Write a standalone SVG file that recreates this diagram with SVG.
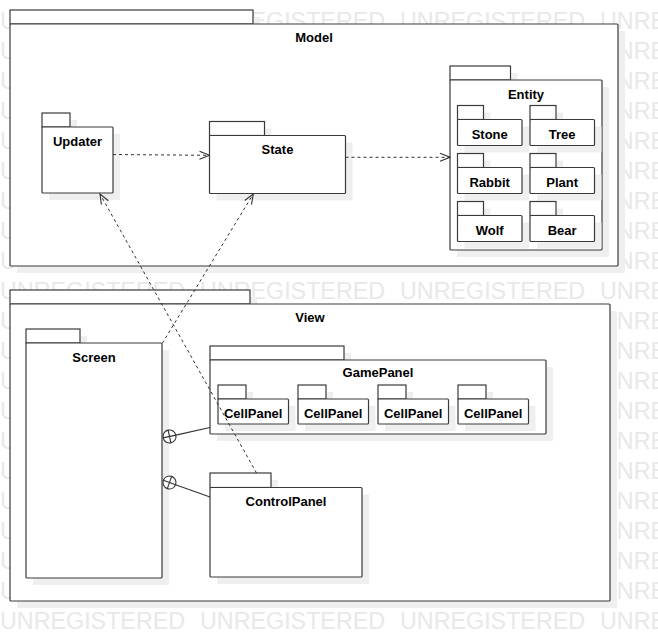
<svg xmlns="http://www.w3.org/2000/svg" width="658" height="641" viewBox="0 0 658 641">
<style>
.wm{font-family:"Liberation Sans",Arial,sans-serif;font-size:23.3px;fill:#e8e8e8}
.sh{fill:#efefef;stroke:none}
.pk{fill:#fff;stroke:#3a3a3a;stroke-width:1.2}
.lb{font-family:"Liberation Sans",Arial,sans-serif;font-size:13px;font-weight:bold;text-anchor:middle;fill:#000}
.dep{fill:none;stroke:#333;stroke-width:1;stroke-dasharray:3 3}
.sol{fill:none;stroke:#333;stroke-width:1.1}
.nest{fill:#fff;stroke:#333;stroke-width:1.1}
</style>
<defs>
<marker id="open" viewBox="0 0 12 10" refX="11" refY="5" markerWidth="12" markerHeight="10" orient="auto" markerUnits="userSpaceOnUse">
<path d="M1 1 L11 5 L1 9" fill="none" stroke="#333" stroke-width="1.1" stroke-dasharray="none"/>
</marker>
<g id="wmrow"><text class="wm" y="0"><tspan x="0">UNREGISTERED</tspan><tspan x="200">UNREGISTERED</tspan><tspan x="400">UNREGISTERED</tspan><tspan x="600">UNREGISTERED</tspan></text></g>
</defs>
<rect x="0" y="0" width="658" height="641" fill="#fff"/>
<g id="watermark">
<use href="#wmrow" y="29"/><use href="#wmrow" y="59"/><use href="#wmrow" y="89"/><use href="#wmrow" y="119"/><use href="#wmrow" y="149"/><use href="#wmrow" y="179"/><use href="#wmrow" y="209"/><use href="#wmrow" y="239"/><use href="#wmrow" y="269"/><use href="#wmrow" y="299"/><use href="#wmrow" y="329"/><use href="#wmrow" y="359"/><use href="#wmrow" y="389"/><use href="#wmrow" y="419"/><use href="#wmrow" y="449"/><use href="#wmrow" y="479"/><use href="#wmrow" y="509"/><use href="#wmrow" y="539"/><use href="#wmrow" y="569"/><use href="#wmrow" y="599"/><use href="#wmrow" y="629"/>
</g>

<g id="Model">
<rect class="sh" x="17" y="17" width="243" height="14"/><rect class="sh" x="17" y="31" width="608" height="242"/>
<rect class="pk" x="10" y="10" width="243" height="14"/><rect class="pk" x="10" y="24" width="608" height="242" rx="1"/>
<text class="lb" x="314" y="42">Model</text>
</g>
<g id="Updater">
<rect class="sh" x="49" y="120" width="28" height="14"/><rect class="sh" x="49" y="134" width="71" height="66"/>
<rect class="pk" x="42" y="113" width="28" height="14"/><rect class="pk" x="42" y="127" width="71" height="66" rx="1"/>
<text class="lb" x="77.5" y="146">Updater</text>
</g>
<g id="State">
<rect class="sh" x="216.5" y="128.5" width="55" height="14"/><rect class="sh" x="216.5" y="142.5" width="136" height="58"/>
<rect class="pk" x="209.5" y="121.5" width="55" height="14"/><rect class="pk" x="209.5" y="135.5" width="136" height="58" rx="1"/>
<text class="lb" x="277.5" y="153.5">State</text>
</g>
<g id="Entity">
<rect class="sh" x="457" y="73" width="60.5" height="14"/><rect class="sh" x="457" y="87" width="152" height="170"/>
<rect class="pk" x="450" y="66" width="60.5" height="14"/><rect class="pk" x="450" y="80" width="152" height="170" rx="1"/>
<text class="lb" x="526" y="98.5">Entity</text>
</g>
<g id="Stone">
<rect class="sh" x="464.5" y="112.5" width="26" height="14"/><rect class="sh" x="464.5" y="126.5" width="64.5" height="26"/>
<rect class="pk" x="457.5" y="105.5" width="26" height="14"/><rect class="pk" x="457.5" y="119.5" width="64.5" height="26" rx="1"/>
<text class="lb" x="489.7" y="138.5">Stone</text>
</g>
<g id="Tree">
<rect class="sh" x="537" y="112.5" width="26" height="14"/><rect class="sh" x="537" y="126.5" width="64.5" height="26"/>
<rect class="pk" x="530" y="105.5" width="26" height="14"/><rect class="pk" x="530" y="119.5" width="64.5" height="26" rx="1"/>
<text class="lb" x="562.2" y="138.5">Tree</text>
</g>
<g id="Rabbit">
<rect class="sh" x="464.5" y="160.5" width="26" height="14"/><rect class="sh" x="464.5" y="174.5" width="64.5" height="26"/>
<rect class="pk" x="457.5" y="153.5" width="26" height="14"/><rect class="pk" x="457.5" y="167.5" width="64.5" height="26" rx="1"/>
<text class="lb" x="489.7" y="186.5">Rabbit</text>
</g>
<g id="Plant">
<rect class="sh" x="537" y="160.5" width="26" height="14"/><rect class="sh" x="537" y="174.5" width="64.5" height="26"/>
<rect class="pk" x="530" y="153.5" width="26" height="14"/><rect class="pk" x="530" y="167.5" width="64.5" height="26" rx="1"/>
<text class="lb" x="562.2" y="186.5">Plant</text>
</g>
<g id="Wolf">
<rect class="sh" x="464.5" y="208.5" width="26" height="14"/><rect class="sh" x="464.5" y="222.5" width="64.5" height="26"/>
<rect class="pk" x="457.5" y="201.5" width="26" height="14"/><rect class="pk" x="457.5" y="215.5" width="64.5" height="26" rx="1"/>
<text class="lb" x="489.7" y="234.5">Wolf</text>
</g>
<g id="Bear">
<rect class="sh" x="537" y="208.5" width="26" height="14"/><rect class="sh" x="537" y="222.5" width="64.5" height="26"/>
<rect class="pk" x="530" y="201.5" width="26" height="14"/><rect class="pk" x="530" y="215.5" width="64.5" height="26" rx="1"/>
<text class="lb" x="562.2" y="234.5">Bear</text>
</g>

<g id="View">
<rect class="sh" x="17" y="297" width="240" height="14"/><rect class="sh" x="17" y="311" width="600" height="297"/>
<rect class="pk" x="10" y="290" width="240" height="14"/><rect class="pk" x="10" y="304" width="600" height="297" rx="1"/>
<text class="lb" x="310" y="322">View</text>
</g>
<g id="Screen">
<rect class="sh" x="33" y="336" width="54" height="14"/><rect class="sh" x="33" y="350" width="136" height="235"/>
<rect class="pk" x="26" y="329" width="54" height="14"/><rect class="pk" x="26" y="343" width="136" height="235" rx="1"/>
<text class="lb" x="94" y="362">Screen</text>
</g>
<g id="GamePanel">
<rect class="sh" x="217" y="353" width="134" height="14"/><rect class="sh" x="217" y="367" width="336" height="74"/>
<rect class="pk" x="210" y="346" width="134" height="14"/><rect class="pk" x="210" y="360" width="336" height="74" rx="1"/>
<text class="lb" x="378" y="377">GamePanel</text>
</g>
<g id="CellPanel1">
<rect class="sh" x="225" y="392" width="28" height="14"/><rect class="sh" x="225" y="406" width="70.5" height="25"/>
<rect class="pk" x="218" y="385" width="28" height="14"/><rect class="pk" x="218" y="399" width="70.5" height="25" rx="1"/>
<text class="lb" x="253.2" y="417.5">CellPanel</text>
</g>
<g id="CellPanel2">
<rect class="sh" x="305" y="392" width="28" height="14"/><rect class="sh" x="305" y="406" width="70.5" height="25"/>
<rect class="pk" x="298" y="385" width="28" height="14"/><rect class="pk" x="298" y="399" width="70.5" height="25" rx="1"/>
<text class="lb" x="333.2" y="417.5">CellPanel</text>
</g>
<g id="CellPanel3">
<rect class="sh" x="385" y="392" width="28" height="14"/><rect class="sh" x="385" y="406" width="70.5" height="25"/>
<rect class="pk" x="378" y="385" width="28" height="14"/><rect class="pk" x="378" y="399" width="70.5" height="25" rx="1"/>
<text class="lb" x="413.2" y="417.5">CellPanel</text>
</g>
<g id="CellPanel4">
<rect class="sh" x="465" y="392" width="28" height="14"/><rect class="sh" x="465" y="406" width="70.5" height="25"/>
<rect class="pk" x="458" y="385" width="28" height="14"/><rect class="pk" x="458" y="399" width="70.5" height="25" rx="1"/>
<text class="lb" x="493.2" y="417.5">CellPanel</text>
</g>
<g id="ControlPanel">
<rect class="sh" x="217" y="480" width="61" height="14.5"/><rect class="sh" x="217" y="494.5" width="152" height="89.5"/>
<rect class="pk" x="210" y="473" width="61" height="14.5"/><rect class="pk" x="210" y="487.5" width="152" height="89.5" rx="1"/>
<text class="lb" x="286" y="506">ControlPanel</text>
</g>

<g id="connectors">
<path class="dep" d="M113 154.5 L209.5 155.3" marker-end="url(#open)"/>
<path class="dep" d="M345.5 157.3 L450 157.3" marker-end="url(#open)"/>
<path class="dep" d="M162.3 343.3 L253.3 194" marker-end="url(#open)"/>
<path class="dep" d="M256.5 473 L100 194" marker-end="url(#open)"/>
<path class="sol" d="M175.85 435.1 L210 427.5"/>
<g transform="translate(169.5,436.5) rotate(-12.5)"><circle class="nest" r="6.5"/><path class="sol" d="M-6.5 0H6.5M0 -6.5V6.5"/></g>
<path class="sol" d="M175.6 484.7 L210 497"/>
<g transform="translate(169.5,482.5) rotate(19.7)"><circle class="nest" r="6.5"/><path class="sol" d="M-6.5 0H6.5M0 -6.5V6.5"/></g>
</g>
</svg>
